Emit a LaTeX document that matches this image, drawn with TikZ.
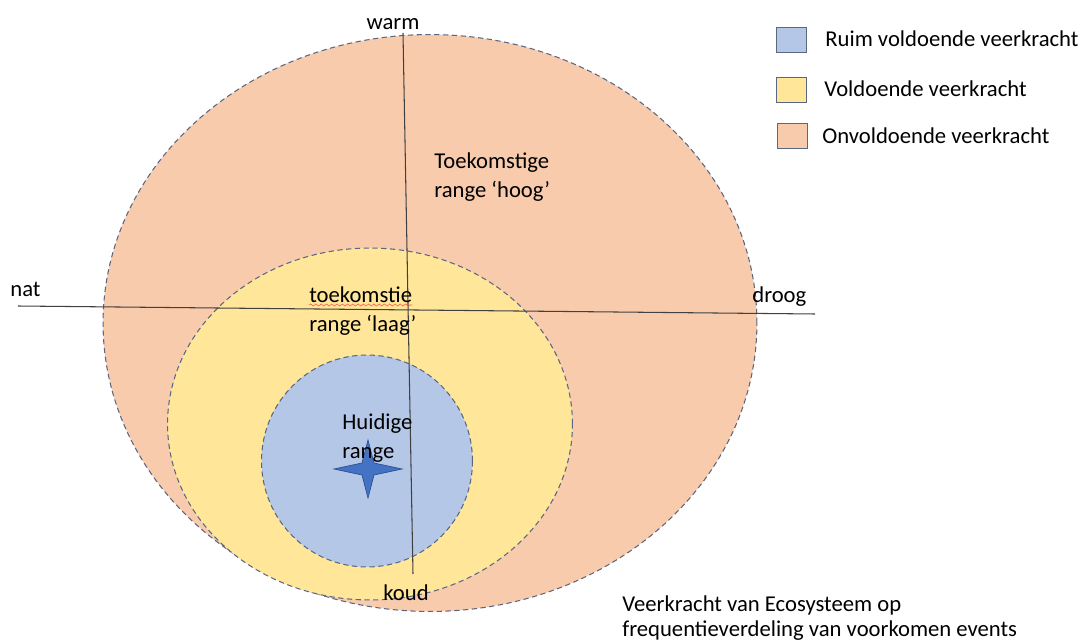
\documentclass[tikz,border=0pt]{standalone}
\usepackage{fontspec}
\setmainfont{Carlito}
\usetikzlibrary{decorations.pathmorphing}

\definecolor{onvold}{HTML}{F8CBAD}
\definecolor{vold}{HTML}{FFE699}
\definecolor{ruim}{HTML}{B4C7E7}
\definecolor{rand}{HTML}{5A6780}
\definecolor{ster}{HTML}{4472C4}
\definecolor{sterrand}{HTML}{2F528F}

\begin{document}
\begin{tikzpicture}[x=0.02cm, y=-0.02cm]
\tikzset{ zone/.style={draw=rand, dashed, dash pattern=on 3pt off 2pt, line width=0.6pt},
          as/.style={draw=black!75, line width=0.6pt},
          tekst/.style={font=\fontsize{12.9}{16.5}\selectfont, inner sep=0pt, align=left},
          legbox/.style={draw=rand, line width=0.6pt, minimum width=0.6cm, minimum height=0.5cm, inner sep=0pt},
        }
\useasboundingbox (0,0) rectangle (1080,642);

%\draw [lightgray, dashed](0,0) grid[step=50] (1080,642);

% zones
\draw [zone, fill=onvold] (430,323) ellipse [x radius=6.54cm, y radius=5.77cm];
\draw [zone, fill=vold]   (370,424) ellipse [x radius=4.05cm, y radius=3.52cm];
\draw [zone, fill=ruim]   (367,461) ellipse [x radius=2.11cm, y radius=2.12cm];

% assen
\coordinate (N) at (403,33);
\coordinate (S) at (413,574);
\coordinate (W) at (18,306);
\coordinate (E) at (815,314);
\draw [as] (N) -- (S);
\draw [as] (W) -- (E);

\node [tekst] (warm)  at (393,24)  {warm};
\node [tekst, anchor=west] (koud)  at (383,593) {koud};
\node [tekst, anchor=west] (nat)   at (10,289)  {nat};
\node [tekst, anchor=west] (droog) at (752,297) {droog};

% ster
\draw [fill=ster, draw=sterrand, line width=0.4pt]
  (368,440) -- (374,463) -- (402,469) -- (374,475) -- (368,498)
  -- (362,475) -- (334,469) -- (362,463) -- cycle;

% labels
\node [tekst, anchor=west] (hoog)    at (434,177) {Toekomstige\\range `hoog'};
\node [tekst, anchor=west] (laag)    at (309,311) {toekomstie\\range `laag'};
\node [tekst, anchor=west] (huidig)  at (342,438) {Huidige\\range};
\draw [red!70, line width=0.3pt, decorate,
       decoration={snake, amplitude=0.6pt, segment length=3pt}] (309,305) -- (412,305);

% legenda
\node [legbox, fill=ruim, anchor=north west] (l1) at (776,27)  {};
\node [legbox, fill=vold, anchor=north west] (l2) at (776,77)  {};
\node [legbox, fill=onvold, anchor=north west] (l3) at (777,123) {};
\node [tekst, anchor=west] at (825,39)  {Ruim voldoende veerkracht};
\node [tekst, anchor=west] at (824,89)  {Voldoende veerkracht};
\node [tekst, anchor=west] at (822,136) {Onvoldoende veerkracht};

\node [tekst, anchor=west, font=\fontsize{12.9}{14.2}\selectfont] (bron) at (622,618)
  {Veerkracht van Ecosysteem op\\frequentieverdeling van voorkomen events};

\end{tikzpicture}
\end{document}
